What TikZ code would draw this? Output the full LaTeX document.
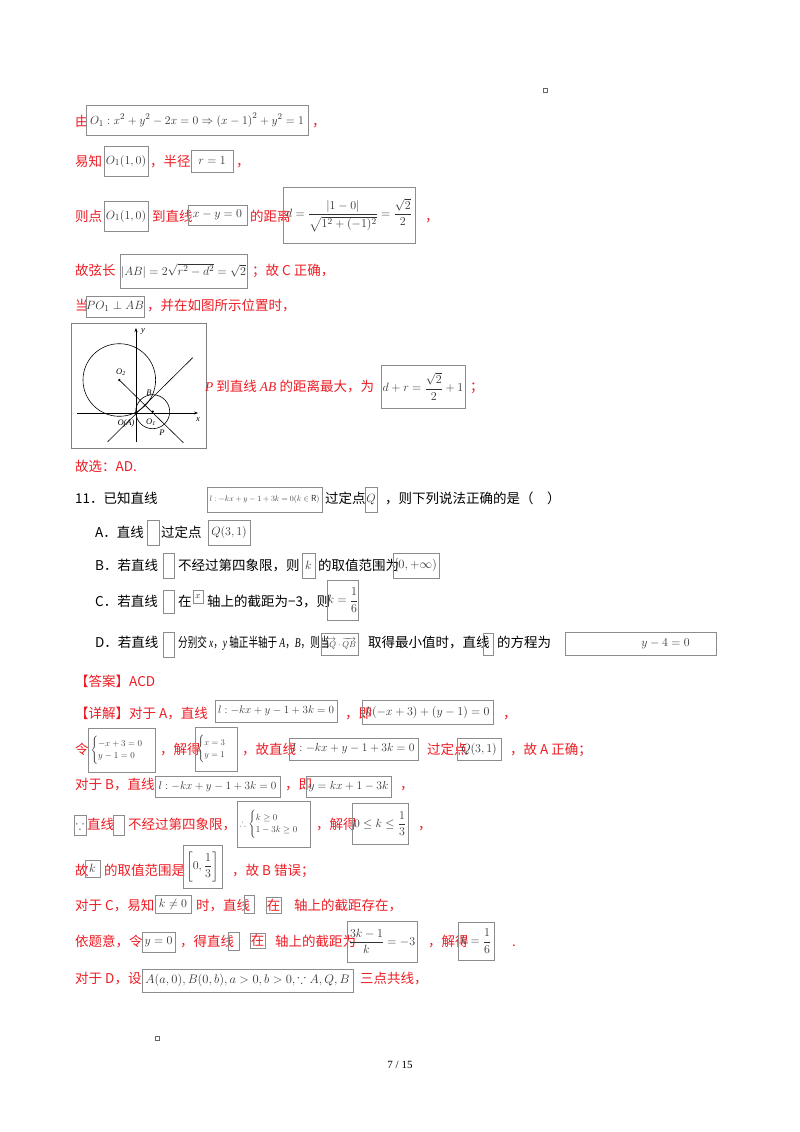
\documentclass[tikz,border=0pt]{standalone}
\usepackage{fontspec}
\usepackage{amsmath,amssymb,graphicx}
\usetikzlibrary{arrows.meta}
\setmainfont{Noto Sans CJK SC}
\newfontfamily\lat{Liberation Serif}
\definecolor{rd}{RGB}{236,28,36}
\definecolor{bxc}{RGB}{140,140,140}
\newcommand{\TT}[4]{\node[tx,anchor=base west] (#1) at (#2,#3) {#4};}
\newcommand{\BX}[6]{\node[bx,minimum width={(#4-#2)*1pt},minimum height={(#5-#3)*1pt}] (#1) at ({(#2+#4)/2},{(#3+#5)/2}) {#6};}
\newcommand{\FIT}[2]{\resizebox{#1pt}{!}{#2}}
\begin{document}
\begin{tikzpicture}[x=1pt,y=-1pt,
 tx/.style={inner sep=0pt,text=rd,font=\fontsize{13.5}{15}\selectfont},
 bx/.style={draw=bxc,line width=0.6pt,inner sep=0pt,text=black!80,font=\fontsize{12.5}{14}\selectfont},
 fig/.style={line width=0.6pt}]
\useasboundingbox (0,0) rectangle (800,1132);
\node[draw=black!60,minimum size=4pt,inner sep=0pt,line width=0.4pt] (m1) at (545,90) {};
\node[draw=black!60,minimum size=4pt,inner sep=0pt,line width=0.4pt] (m2) at (157,1038) {};
% line 1
\TT{a1}{75}{126}{由}
\BX{b1}{86}{105}{308}{135}{\FIT{214}{$O_1:x^2+y^2-2x=0\Rightarrow\left(x-1\right)^2+y^2=1$}}
\TT{a2}{312}{126}{，}
% line 2
\TT{a3}{75}{166}{易知}
\BX{b2}{104}{146}{148}{176}{$O_1(1,0)$}
\TT{a4}{150}{166}{，半径}
\BX{b3}{191}{150}{233}{172}{$r=1$}
\TT{a5}{236}{166}{，}
% line 3
\TT{a6}{75}{221}{则点}
\BX{b4}{104}{201}{148}{231}{$O_1(1,0)$}
\TT{a7}{152}{221}{到直线}
\BX{b5}{188}{205}{247}{225}{$x-y=0$}
\TT{a8}{250}{221}{的距离}
\BX{b6}{283}{187}{415}{243}{$d=\dfrac{|1-0|}{\sqrt{1^2+(-1)^2}}=\dfrac{\sqrt2}{2}$}
\TT{a9}{425}{221}{，}
% line 4
\TT{a10}{75}{275}{故弦长}
\BX{b7}{120}{254}{247}{288}{$|AB|=2\sqrt{r^2-d^2}=\sqrt2$}
\TT{a11}{252}{275}{；故 C 正确，}
% line 5
\TT{a12}{75}{310}{当}
\BX{b8}{88}{296}{142}{317}{$PO_1\perp AB$}
\TT{a13}{147}{310}{，并在如图所示位置时，}
% figure
\node[draw=black!50,line width=0.6pt,minimum width=135pt,minimum height=125pt,inner sep=0pt] (figbox) at (138.5,385.5) {};
\draw[fig,-{Stealth[length=4pt]}] (136,442) -- (136,328);
\draw[fig,-{Stealth[length=4pt]}] (77,413) -- (198,413);
\draw[fig] (152.7,411.7) circle (17);
\draw[fig] (119.3,380) circle (36.3);
\draw[fig] (107.7,441.7) -- (192.7,357.7);
\draw[fig] (119.3,380) -- (183.3,442.7);
\fill (119.3,380) circle (1.3);
\fill (152.7,411.7) circle (1.3);
\begin{scope}[every node/.style={inner sep=0pt,font=\lat\itshape\fontsize{8.5}{9}\selectfont}]
\node (ly) at (143,331) {y};
\node (lx) at (198,420) {x};
\node (lo2) at (121,372) {O\textsubscript{2}};
\node (lo1) at (151,422) {O\textsubscript{1}};
\node (lb) at (149,393) {B};
\node (lp) at (162,433) {P};
\node (loa) at (126,423) {O(A)};
\end{scope}
\TT{a14}{205}{391}{{\lat\itshape P} 到直线 {\lat\itshape AB} 的距离最大，为}
\BX{b9}{381}{365}{465}{408}{$d+r=\dfrac{\sqrt2}{2}+1$}
\TT{a15}{470}{391}{；}
\TT{a16}{75}{471}{故选：AD.}
% Q11
\TT{q1}{75}{503}{\textcolor{black}{11．已知直线}}
\BX{c1}{207}{487}{322}{512}{\FIT{110}{$l:-kx+y-1+3k=0(k\in\mathrm{R})$}}
\TT{q2}{325}{503}{\textcolor{black}{过定点}}
\BX{c2}{365}{487}{377}{512}{$Q$}
\TT{q3}{385}{503}{\textcolor{black}{，则下列说法正确的是（\quad ）}}
\TT{qa}{95}{537}{\textcolor{black}{A．直线}}
\BX{c3}{147}{520}{159}{545}{}
\TT{qa2}{161}{537}{\textcolor{black}{过定点}}
\BX{c4}{208}{520}{250}{545}{$Q(3,1)$}
\TT{qb}{95}{570}{\textcolor{black}{B．若直线}}
\BX{c5}{163}{553}{174}{578}{}
\TT{qb2}{178}{570}{\textcolor{black}{不经过第四象限，则}}
\BX{c6}{302}{553}{315}{578}{$k$}
\TT{qb3}{318}{570}{\textcolor{black}{的取值范围为}}
\BX{c7}{393}{553}{439}{578}{\FIT{42}{$[0,+\infty)$}}
\TT{qc}{95}{606}{\textcolor{black}{C．若直线}}
\BX{c8}{163}{590}{174}{613}{}
\TT{qc2}{178}{606}{\textcolor{black}{在}}
\BX{c9}{193}{590}{203}{603}{\small$x$}
\TT{qc3}{207}{606}{\textcolor{black}{轴上的截距为−3，则}}
\BX{c10}{329}{580}{357}{620}{$k=\dfrac16$}
\TT{qd}{95}{647}{\textcolor{black}{D．若直线}}
\BX{c11}{163}{632}{174}{657}{}
\TT{qd2}{178}{647}{\scalebox{0.71}[1]{\textcolor{black}{分别交 {\lat\itshape x}，{\lat\itshape y} 轴正半轴于 {\lat\itshape A}，{\lat\itshape B}，则当}}}
\BX{c12}{321}{633}{358}{655}{\FIT{33}{$\overrightarrow{AQ}\cdot\overrightarrow{QB}$}}
\TT{qd3}{368}{647}{\textcolor{black}{取得最小值时，直线}}
\BX{c13}{483}{633}{493}{655}{}
\TT{qd4}{497}{647}{\textcolor{black}{的方程为}}
\BX{c14}{565}{632}{716}{655}{\hspace*{4em}$y-4=0$}
% answer
\TT{d1}{75}{686}{【答案】ACD}
\TT{d2}{75}{718}{【详解】对于 A，直线}
\BX{e1}{215}{700}{337}{722}{\FIT{116}{$l:-kx+y-1+3k=0$}}
\TT{d3}{345}{718}{，即}
\BX{e2}{362}{700}{493}{724}{\FIT{124}{$k(-x+3)+(y-1)=0$}}
\TT{d4}{503}{718}{，}
\TT{d5}{75}{754}{令}
\BX{e3}{88}{728}{155}{772}{\FIT{62}{$\begin{cases}-x+3=0\\ y-1=0\end{cases}$}}
\TT{d6}{160}{754}{，解得}
\BX{e4}{195}{727}{237}{771}{\FIT{38}{$\begin{cases}x=3\\ y=1\end{cases}$}}
\TT{d7}{242}{754}{，故直线}
\BX{e5}{289}{738}{418}{760}{\FIT{122}{$l:-kx+y-1+3k=0$}}
\TT{d8}{427}{754}{过定点}
\BX{e6}{457}{738}{501}{760}{$Q(3,1)$}
\TT{d9}{510}{754}{，故 A 正确；}
\TT{d10}{75}{789}{对于 B，直线}
\BX{e7}{155}{776}{280}{797}{\FIT{118}{$l:-kx+y-1+3k=0$}}
\TT{d11}{285}{789}{，即}
\BX{e8}{306}{776}{391}{797}{\FIT{80}{$y=kx+1-3k$}}
\TT{d12}{400}{789}{，}
\BX{e9}{74}{815}{86}{835}{$\because$}
\TT{d13}{87}{829}{直线}
\BX{e10}{113}{815}{124}{835}{}
\TT{d14}{128}{829}{不经过第四象限，}
\BX{e11}{237}{801}{310}{847}{\FIT{68}{$\therefore\begin{cases}k\ge0\\ 1-3k\ge0\end{cases}$}}
\TT{d15}{316}{829}{，解得}
\BX{e12}{352}{803}{408}{844}{\FIT{52}{$0\le k\le\dfrac13$}}
\TT{d16}{418}{829}{，}
\TT{d17}{75}{875}{故}
\BX{e13}{85}{860}{100}{877}{$k$}
\TT{d18}{104}{875}{的取值范围是}
\BX{e14}{183}{845}{222}{888}{$\left[0,\dfrac13\right]$}
\TT{d19}{232}{875}{，故 B 错误；}
\TT{d20}{75}{910}{对于 C，易知}
\BX{e15}{155}{895}{191}{913}{$k\ne0$}
\TT{d21}{196}{910}{时，直线}
\BX{e16}{244}{895}{254}{913}{}
\BX{e17}{266}{897}{281}{913}{\textcolor{rd}{\fontsize{13.5}{15}\selectfont 在}}
\TT{d23}{294}{910}{轴上的截距存在，}
\TT{d24}{75}{946}{依题意，令}
\BX{e18}{142}{932}{175}{952}{$y=0$}
\TT{d25}{180}{946}{，得直线}
\BX{e19}{228}{932}{239}{950}{}
\BX{e20}{250}{933}{265}{948}{\textcolor{rd}{\fontsize{13.5}{15}\selectfont 在}}
\TT{d27}{275}{946}{轴上的截距为}
\BX{e21}{347}{921}{417}{962}{$\dfrac{3k-1}{k}=-3$}
\TT{d28}{428}{946}{，解得}
\BX{e22}{458}{922}{494}{960}{$k=\dfrac16$}
\TT{d29}{512}{946}{.}
\TT{d30}{75}{983}{对于 D，设}
\BX{e23}{142}{969}{353}{992}{\FIT{204}{$A(a,0),B(0,b),a>0,b>0,\because A,Q,B$}}
\TT{d31}{360}{983}{三点共线，}
\node[inner sep=0pt,anchor=base,font=\lat\fontsize{11}{12}\selectfont] (pg) at (400,1068) {7 / 15};
\end{tikzpicture}
\end{document}
